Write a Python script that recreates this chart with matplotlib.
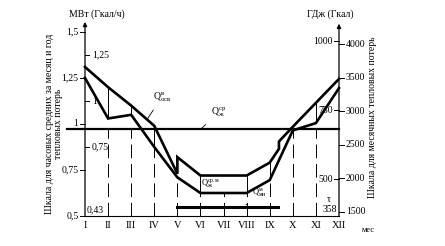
import matplotlib.pyplot as plt
import numpy as np

plt.rcParams['font.family'] = ['Liberation Serif', 'DejaVu Serif']
plt.rcParams['mathtext.fontset'] = 'custom'
plt.rcParams['mathtext.rm'] = 'Liberation Serif'
plt.rcParams['mathtext.it'] = 'Liberation Serif:italic'

months = ['I', 'II', 'III', 'IV', 'V', 'VI', 'VII', 'VIII', 'IX', 'X', 'XI', 'XII']
mon = np.arange(1, 13)

# верхняя кривая (Q осв), МВт по левой шкале
osv_x = [1, 2, 3, 4, 5, 5, 6, 7, 8, 9, 9.4, 9.4, 10, 11, 12]
osv_y = [1.31, 1.20, 1.10, 0.99, 0.73, 0.82, 0.72, 0.72, 0.72, 0.79, 0.865, 0.905, 0.985, 1.115, 1.245]

# нижняя кривая (Q мн)
mn_y = [1.25, 1.03, 1.05, 0.875, 0.71, 0.625, 0.625, 0.625, 0.695, 0.965, 1.005, 1.195]

# среднегодовые потери
q_avg = 0.973
q_avg_from = 0.22

# период (полоса внизу)
bar_from, bar_to, bar_y = 5, 9.36, 0.549

# шкалы
left_outer = [0.5, 0.75, 1.0, 1.25, 1.5]
left_inner = [0.75, 1.0, 1.25]
right_inner = [500, 750, 1000]
right_outer = [1500, 2000, 2500, 3000, 3500, 4000]


def inner_l(v):
    return v + 0.125


def gdj(g):
    return 1.075 + (g - 750) * 0.0015


def gcal(g):
    return 0.522 + (g - 1500) * 0.000365


def lab(v):
    s = ('%g' % v).replace('.', ',')
    return s


fig = plt.figure(figsize=(4.45, 2.46), dpi=100)
ax = fig.add_axes([0, 0, 1, 1])
ax.set_xlim(1 - 85 / 23.09, 1 + 360 / 23.09)
ax.set_ylim(0.5 - 30 / 184, 0.5 + 216 / 184)
ax.axis('off')

k = 'black'
fs = 7

# оси
ax.plot([1, 12], [0.5, 0.5], color=k, lw=0.8)
ax.annotate('', xy=(1, 1.555), xytext=(1, 0.5),
            arrowprops=dict(arrowstyle='-|>', lw=0.9, color=k, mutation_scale=6, shrinkA=0, shrinkB=0))
ax.annotate('', xy=(12, 1.545), xytext=(12, 0.5),
            arrowprops=dict(arrowstyle='-|>', lw=0.9, color=k, mutation_scale=6, shrinkA=0, shrinkB=0))

# вертикали по месяцам
for i in range(1, 11):
    m = mon[i]
    top = min(mn_y[i], q_avg)
    ax.plot([m, m], [0.5, top], color=k, lw=0.7, ls=(0, (14, 6)))
for m in [2, 3, 4, 6, 8, 9, 11]:
    ax.plot([m, m], [mn_y[m - 1], np.interp(m, osv_x, osv_y)], color=k, lw=0.7)

# кривые
ax.plot(osv_x, osv_y, color=k, lw=1.9, solid_joinstyle='miter')
ax.plot(mon, mn_y, color=k, lw=1.9, solid_joinstyle='miter')
ax.plot([q_avg_from, 12], [q_avg, q_avg], color=k, lw=1.6)
ax.plot([bar_from, bar_to], [bar_y, bar_y], color=k, lw=2.2)

# левая шкала
for v in left_outer:
    ax.plot([0.78, 1], [v, v], color=k, lw=0.7)
    ax.text(0.72, v, lab(v), ha='right', va='center', fontsize=fs)
for v in left_inner:
    ax.plot([1, 1.17], [inner_l(v), inner_l(v)], color=k, lw=0.7)
    ax.text(1.3, inner_l(v), lab(v), ha='left', va='center', fontsize=fs)
ax.text(1.43, 0.533, '0,43', ha='center', va='center', fontsize=fs)

# правая шкала
for g in right_inner:
    ax.plot([11.8, 12], [gdj(g), gdj(g)], color=k, lw=0.7)
    ax.text(11.74, gdj(g), str(g), ha='right', va='center', fontsize=fs)
for g in right_outer:
    ax.plot([12, 12.2], [gcal(g), gcal(g)], color=k, lw=0.7)
    ax.text(12.3, gcal(g), str(g), ha='left', va='center', fontsize=fs)
ax.text(11.55, 0.59, 'τ', ha='center', va='center', fontsize=fs)
ax.text(11.6, 0.533, '358', ha='center', va='center', fontsize=fs)

# месяцы
for m, t in zip(mon, months):
    ax.text(m, 0.446, t, ha='center', va='center', fontsize=7.5)
ax.text(13.26, 0.424, 'мес', ha='center', va='center', fontsize=6)

# заголовки шкал
ax.text(1.52, 1.598, 'МВт (Гкал/ч)', ha='center', va='center', fontsize=fs)
ax.text(11.61, 1.598, 'ГДж (Гкал)', ha='center', va='center', fontsize=fs)
ax.text(-0.34, 1.0, 'Шкала для часовых средних за месяц и год\nтепловых потерь',
        rotation=90, ha='center', va='center', fontsize=fs, multialignment='center',
        linespacing=1.0)
ax.text(13.43, 1.038, 'Шкала для месячных тепловых потерь',
        rotation=90, ha='center', va='center', fontsize=fs)

# подписи кривых
ax.annotate(r'$\mathrm{Q}^{\mathrm{в}}_{\mathrm{осв}}$', xy=(3.685, 1.024), xytext=(4.33, 1.147),
            ha='center', va='center', fontsize=fs,
            arrowprops=dict(arrowstyle='-', lw=0.6, color=k, shrinkA=3, shrinkB=0))
ax.annotate(r'$\mathrm{Q}^{\mathrm{ср}}_{\mathrm{ж}}$', xy=(6.02, q_avg), xytext=(6.8, 1.065),
            ha='center', va='center', fontsize=fs,
            arrowprops=dict(arrowstyle='-', lw=0.6, color=k, shrinkA=3, shrinkB=0))
ax.annotate(r'$\mathrm{Q}^{\mathrm{ср.м}}_{\mathrm{ж}}$', xy=(5.94, 0.625), xytext=(6.46, 0.674),
            ha='center', va='center', fontsize=6,
            arrowprops=dict(arrowstyle='-', lw=0.6, color=k, shrinkA=3, shrinkB=0))
ax.annotate(r'$\mathrm{Q}^{\mathrm{м}}_{\mathrm{мн}}$', xy=(7.97, 0.56), xytext=(8.54, 0.63),
            ha='center', va='center', fontsize=6,
            arrowprops=dict(arrowstyle='-', lw=0.6, color=k, shrinkA=3, shrinkB=0))

fig.savefig('out.png', dpi=100, facecolor='white')
